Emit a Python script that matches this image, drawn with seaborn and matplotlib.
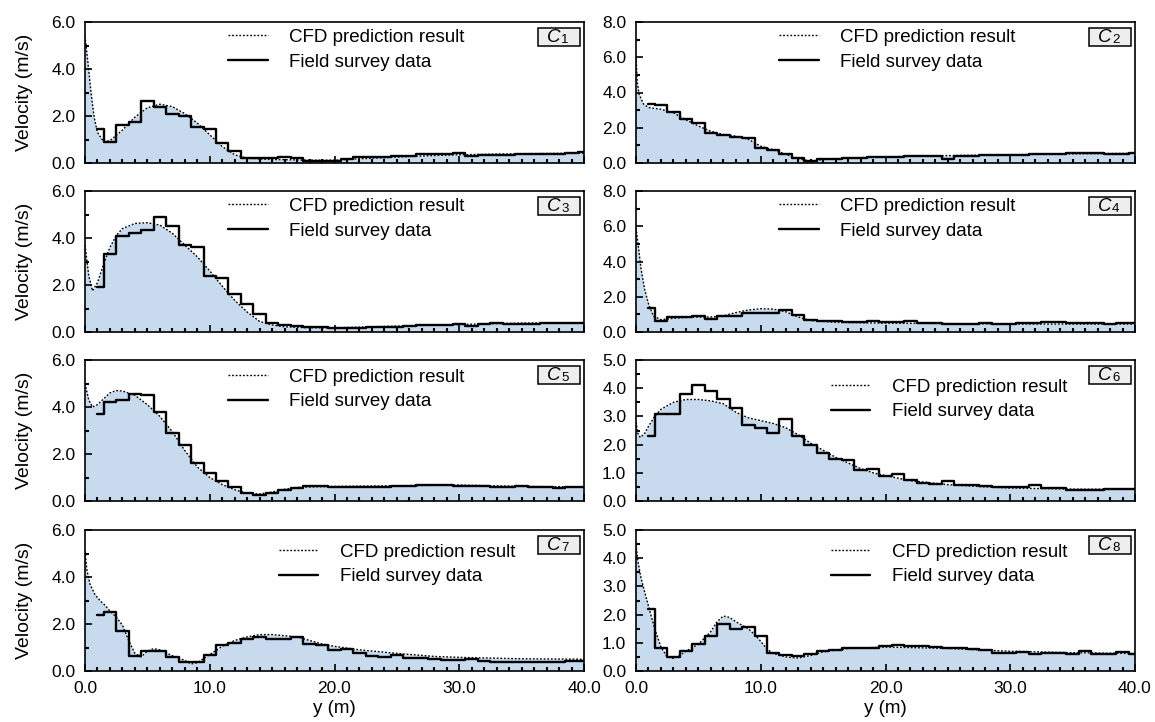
import matplotlib
matplotlib.use("Agg")
import matplotlib.pyplot as plt
from matplotlib.patches import Rectangle
from matplotlib.ticker import MultipleLocator, FormatStrFormatter
import seaborn as sns

# Field survey stations: one reading per metre across the section
survey_y = list(range(1, 41))

c1_survey = [1.45, 0.9, 1.6, 1.75, 2.65, 2.4, 2.1, 2.0, 1.55, 1.45,
             0.85, 0.5, 0.2, 0.2, 0.2, 0.25, 0.2, 0.1, 0.1, 0.08,
             0.15, 0.25, 0.25, 0.25, 0.28, 0.3, 0.38, 0.38, 0.4, 0.42,
             0.3, 0.35, 0.35, 0.35, 0.38, 0.4, 0.4, 0.38, 0.42, 0.45]
c2_survey = [3.35, 3.3, 2.9, 2.5, 2.25, 1.7, 1.6, 1.5, 1.4, 0.85,
             0.75, 0.5, 0.3, 0.1, 0.25, 0.25, 0.28, 0.3, 0.32, 0.35,
             0.35, 0.38, 0.4, 0.4, 0.22, 0.42, 0.42, 0.45, 0.45, 0.48,
             0.48, 0.5, 0.5, 0.52, 0.55, 0.55, 0.55, 0.5, 0.5, 0.55]
c3_survey = [1.9, 3.3, 4.1, 4.2, 4.35, 4.9, 4.5, 3.7, 3.6, 2.4,
             2.3, 1.6, 1.2, 0.75, 0.4, 0.3, 0.25, 0.2, 0.2, 0.18,
             0.15, 0.18, 0.2, 0.2, 0.22, 0.25, 0.28, 0.3, 0.3, 0.32,
             0.25, 0.35, 0.38, 0.35, 0.35, 0.35, 0.38, 0.4, 0.4, 0.38]
c4_survey = [1.35, 0.65, 0.85, 0.85, 0.88, 0.75, 0.9, 0.9, 1.1, 1.1,
             1.1, 1.25, 0.95, 0.7, 0.65, 0.6, 0.55, 0.55, 0.65, 0.55,
             0.55, 0.65, 0.5, 0.5, 0.45, 0.48, 0.48, 0.5, 0.45, 0.45,
             0.5, 0.5, 0.55, 0.55, 0.5, 0.5, 0.5, 0.45, 0.5, 0.5]
c5_survey = [3.7, 4.2, 4.3, 4.55, 4.5, 3.8, 2.9, 2.4, 1.6, 1.2,
             0.85, 0.6, 0.35, 0.25, 0.35, 0.45, 0.55, 0.62, 0.62, 0.58,
             0.6, 0.6, 0.6, 0.6, 0.62, 0.65, 0.68, 0.68, 0.7, 0.65,
             0.65, 0.65, 0.6, 0.6, 0.65, 0.6, 0.6, 0.55, 0.6, 0.6]
c6_survey = [2.3, 3.1, 3.1, 3.8, 4.1, 3.9, 3.6, 3.3, 2.7, 2.6,
             2.4, 2.9, 2.3, 2.0, 1.7, 1.5, 1.45, 1.1, 1.15, 0.9,
             0.95, 0.75, 0.65, 0.6, 0.7, 0.58, 0.55, 0.52, 0.5, 0.48,
             0.48, 0.55, 0.45, 0.45, 0.4, 0.38, 0.38, 0.42, 0.42, 0.42]
c7_survey = [2.4, 2.5, 1.7, 0.65, 0.85, 0.85, 0.6, 0.4, 0.4, 0.7,
             1.1, 1.2, 1.35, 1.45, 1.35, 1.35, 1.45, 1.15, 1.1, 0.9,
             0.95, 0.75, 0.65, 0.6, 0.7, 0.55, 0.55, 0.5, 0.45, 0.45,
             0.5, 0.42, 0.4, 0.38, 0.38, 0.38, 0.4, 0.4, 0.42, 0.42]
c8_survey = [2.2, 0.8, 0.5, 0.7, 0.95, 1.25, 1.65, 1.5, 1.55, 1.25,
             0.65, 0.55, 0.52, 0.6, 0.7, 0.75, 0.8, 0.82, 0.82, 0.9,
             0.92, 0.9, 0.88, 0.85, 0.82, 0.8, 0.78, 0.75, 0.65, 0.65,
             0.68, 0.6, 0.65, 0.65, 0.6, 0.7, 0.6, 0.62, 0.68, 0.62]

# CFD velocity profiles (y in m, velocity in m/s)
c1_cfd_y = [0, 0.25, 0.5, 0.75, 1.0, 1.5, 2, 3, 4, 5, 6, 7, 8, 9, 10, 11, 12, 13,
            15, 18, 20, 22, 25, 28, 30, 33, 36, 40]
c1_cfd_v = [5.4, 4.2, 2.9, 1.9, 1.3, 0.9, 0.95, 1.4, 1.95, 2.35, 2.5, 2.4, 2.1, 1.7,
            1.2, 0.7, 0.35, 0.2, 0.15, 0.12, 0.12, 0.18, 0.25, 0.32, 0.35, 0.38, 0.4, 0.42]
c2_cfd_y = [0, 0.1, 0.25, 0.6, 1, 2, 3, 4, 5, 6, 7, 8, 9, 10, 11, 12, 13, 14, 15,
            17, 20, 25, 30, 35, 40]
c2_cfd_v = [6.0, 4.6, 3.9, 3.35, 3.15, 3.05, 2.85, 2.45, 2.1, 1.8, 1.62, 1.52, 1.35,
            0.95, 0.75, 0.5, 0.25, 0.1, 0.2, 0.28, 0.35, 0.42, 0.47, 0.52, 0.55]
c3_cfd_y = [0, 0.3, 0.6, 1.0, 1.5, 2, 2.5, 3, 4, 5, 6, 7, 8, 9, 10, 11, 12, 13, 14,
            15, 16, 18, 20, 25, 30, 35, 40]
c3_cfd_v = [3.7, 2.4, 1.75, 2.1, 2.9, 3.6, 4.1, 4.4, 4.62, 4.65, 4.55, 4.2, 3.7, 3.2,
            2.6, 1.95, 1.35, 0.85, 0.45, 0.3, 0.22, 0.18, 0.18, 0.25, 0.32, 0.38, 0.4]
c4_cfd_y = [0, 0.2, 0.4, 0.7, 1.0, 1.4, 2, 3, 4, 5, 6, 7, 8, 9, 10, 11, 12, 13, 14,
            16, 20, 25, 30, 35, 40]
c4_cfd_v = [5.9, 4.8, 3.6, 2.4, 1.6, 0.9, 0.7, 0.78, 0.82, 0.85, 0.85, 0.92, 1.1, 1.25,
            1.32, 1.3, 1.15, 0.85, 0.65, 0.55, 0.5, 0.48, 0.45, 0.45, 0.45]
c5_cfd_y = [0, 0.3, 0.6, 1.0, 1.5, 2, 2.5, 3, 4, 5, 6, 7, 8, 9, 10, 11, 12, 13, 14,
            15, 16, 17, 20, 25, 30, 35, 40]
c5_cfd_v = [5.0, 4.3, 4.0, 4.1, 4.35, 4.6, 4.7, 4.68, 4.5, 4.1, 3.6, 2.95, 2.15, 1.45,
            1.0, 0.7, 0.48, 0.33, 0.3, 0.38, 0.5, 0.58, 0.62, 0.65, 0.68, 0.62, 0.6]
c6_cfd_y = [0, 0.15, 0.35, 0.7, 1.0, 1.5, 2, 3, 4, 5, 6, 7, 8, 9, 10, 11, 12, 13, 14,
            15, 16, 17, 18, 19, 20, 22, 25, 28, 30, 35, 40]
c6_cfd_v = [2.8, 2.4, 2.25, 2.4, 2.65, 3.0, 3.25, 3.5, 3.6, 3.6, 3.55, 3.45, 3.15, 2.95,
            2.85, 2.75, 2.6, 2.35, 2.05, 1.8, 1.55, 1.35, 1.15, 1.0, 0.9, 0.72, 0.58,
            0.5, 0.46, 0.42, 0.42]
c7_cfd_y = [0, 0.15, 0.4, 0.8, 1.2, 1.6, 2, 2.5, 3, 3.5, 4, 4.5, 5, 5.5, 6, 7, 8, 8.5,
            9, 10, 11, 12, 13, 14, 15, 16, 17, 18, 19, 20, 22, 25, 28, 30, 35, 40]
c7_cfd_v = [5.1, 4.3, 3.7, 3.25, 3.0, 2.8, 2.55, 2.3, 1.95, 1.3, 0.75, 0.6, 0.85, 0.95,
            0.9, 0.65, 0.45, 0.3, 0.35, 0.7, 1.05, 1.3, 1.45, 1.55, 1.55, 1.5, 1.45,
            1.3, 1.15, 1.05, 0.9, 0.75, 0.62, 0.58, 0.52, 0.5]
c8_cfd_y = [0, 0.15, 0.4, 0.7, 1.0, 1.5, 2, 2.5, 3, 3.5, 4, 5, 6, 6.5, 7, 7.5, 8, 9,
            9.5, 10, 10.5, 11, 12, 13, 14, 15, 17, 20, 25, 30, 35, 40]
c8_cfd_v = [4.5, 3.9, 3.3, 2.8, 2.3, 1.5, 0.85, 0.5, 0.45, 0.55, 0.7, 0.95, 1.4, 1.75,
            1.95, 1.9, 1.75, 1.5, 1.3, 1.05, 0.78, 0.62, 0.5, 0.46, 0.55, 0.68, 0.8,
            0.85, 0.8, 0.7, 0.65, 0.62]

section_labels = ["1", "2", "3", "4", "5", "6", "7", "8"]
survey_sets = [c1_survey, c2_survey, c3_survey, c4_survey,
               c5_survey, c6_survey, c7_survey, c8_survey]
cfd_y_sets = [c1_cfd_y, c2_cfd_y, c3_cfd_y, c4_cfd_y,
              c5_cfd_y, c6_cfd_y, c7_cfd_y, c8_cfd_y]
cfd_v_sets = [c1_cfd_v, c2_cfd_v, c3_cfd_v, c4_cfd_v,
              c5_cfd_v, c6_cfd_v, c7_cfd_v, c8_cfd_v]
y_max = [6.0, 8.0, 6.0, 8.0, 6.0, 5.0, 6.0, 5.0]
y_major = [2.0, 2.0, 2.0, 2.0, 2.0, 1.0, 2.0, 1.0]

# legend placement per panel: left edge (axes fraction), first-row offset below top (px)
legend_x = [0.287, 0.287, 0.287, 0.287, 0.287, 0.391, 0.389, 0.391]
legend_dy = [17.7, 17.7, 17.7, 17.7, 19.3, 29.3, 24.3, 24.3]

sns.set_theme(style="ticks")
plt.rcParams["font.family"] = ["Liberation Sans", "DejaVu Sans"]
plt.rcParams["mathtext.fontset"] = "custom"
plt.rcParams["mathtext.rm"] = "Liberation Sans"
plt.rcParams["mathtext.it"] = "Liberation Sans:italic"
plt.rcParams["axes.linewidth"] = 1.2
plt.rcParams["axes.edgecolor"] = "black"
plt.rcParams["text.color"] = "black"
plt.rcParams["axes.labelcolor"] = "black"
plt.rcParams["xtick.color"] = "black"
plt.rcParams["ytick.color"] = "black"

W, H = 1155, 722
fig = plt.figure(figsize=(W / 100, H / 100), dpi=100)

col_left = [85, 636]
ax_w = 499
row_top = [22, 191, 360, 530]
ax_h = 141

fill_color = "#c8daee"

for i in range(8):
    r, c = divmod(i, 2)
    ax = fig.add_axes([col_left[c] / W, 1 - (row_top[r] + ax_h) / H, ax_w / W, ax_h / H])

    ax.fill_between(cfd_y_sets[i], cfd_v_sets[i], 0, color=fill_color, lw=0, zorder=0)
    sns.lineplot(x=cfd_y_sets[i], y=cfd_v_sets[i], ax=ax, color="black", lw=1.0,
                 linestyle=(0, (1.3, 1.3)), label="CFD prediction result", zorder=2)
    sns.lineplot(x=survey_y, y=survey_sets[i], ax=ax, color="black", lw=1.7,
                 drawstyle="steps-mid", label="Field survey data", zorder=3)

    ax.set_xlim(0, 40)
    ax.set_ylim(0, y_max[i])
    ax.xaxis.set_major_locator(MultipleLocator(10))
    ax.xaxis.set_minor_locator(MultipleLocator(1))
    ax.yaxis.set_major_locator(MultipleLocator(y_major[i]))
    ax.yaxis.set_minor_locator(MultipleLocator(y_major[i] / 2))
    ax.xaxis.set_major_formatter(FormatStrFormatter("%.1f"))
    ax.yaxis.set_major_formatter(FormatStrFormatter("%.1f"))
    ax.tick_params(which="major", direction="in", length=5, width=1.2, pad=7,
                   labelsize=12.5, colors="black")
    ax.tick_params(which="minor", direction="in", length=3, width=1.5, colors="black")
    ax.tick_params(axis="x", which="both", top=False)
    ax.tick_params(axis="y", which="both", right=False)
    for sp in ax.spines.values():
        sp.set_visible(True)
        sp.set_color("black")
        sp.set_linewidth(1.2)

    if r < 3:
        ax.tick_params(axis="x", labelbottom=False)
        ax.set_xlabel("")
    else:
        ax.set_xlabel("y (m)", fontsize=13.5, labelpad=3)
    if c == 0:
        ax.set_ylabel("Velocity (m/s)", fontsize=14, labelpad=13)
    else:
        ax.set_ylabel("")

    ly = 1 - (legend_dy[i] - 10.8) / ax_h
    ax.legend(loc="upper left", bbox_to_anchor=(legend_x[i], ly), frameon=False,
              fontsize=13.5, handlelength=2.1, handletextpad=1.15, borderpad=0,
              borderaxespad=0, labelspacing=0.4)

    # section tag in the top-right corner: italic C with a small index
    bw, bh = 42 / ax_w, 18 / ax_h
    bx, by = 1 - 4.5 / ax_w - bw, 1 - 5.5 / ax_h - bh
    ax.add_patch(Rectangle((bx, by), bw, bh, transform=ax.transAxes,
                           facecolor="#eeeeee", edgecolor="black", lw=1.1, zorder=5))
    cx = bx + bw / 2 + 2 / ax_w
    base = by + 3.5 / ax_h
    ax.text(cx, base, "C", transform=ax.transAxes, ha="right", va="baseline",
            fontsize=13.5, style="italic", zorder=6)
    ax.text(cx + 0.5 / ax_w, base - 1 / ax_h, section_labels[i], transform=ax.transAxes,
            ha="left", va="baseline", fontsize=9.5, zorder=6)

fig.savefig("out.png", dpi=100)
